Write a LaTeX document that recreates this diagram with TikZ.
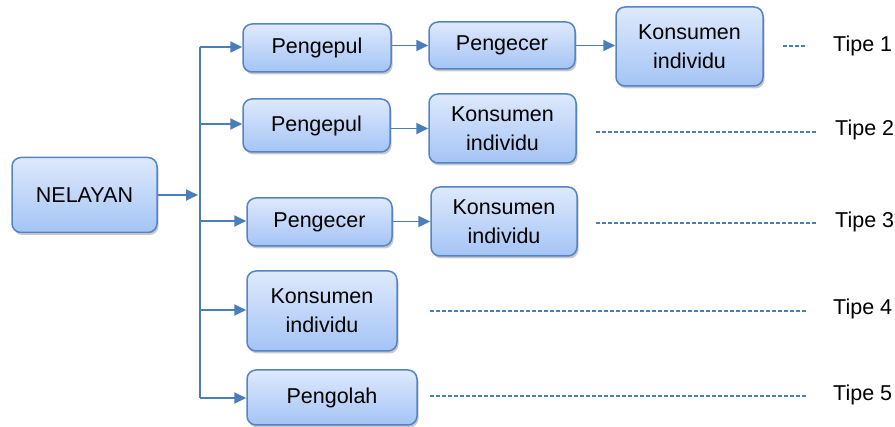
\documentclass[tikz,border=0pt]{standalone}
\usepackage{fontspec}
\setmainfont{Liberation Sans}
\usetikzlibrary{arrows.meta,shadows}
\definecolor{boxtop}{RGB}{222,233,252}
\definecolor{boxbot}{RGB}{164,196,245}
\definecolor{boxline}{RGB}{84,132,196}
\definecolor{linkc}{RGB}{74,126,187}
\tikzset{
  box/.style={draw=boxline, line width=1.5pt, rounded corners=9pt,
    top color=boxtop, bottom color=boxbot, align=center, inner sep=0pt,
    font=\fontsize{21.5}{29}\selectfont,
    drop shadow={shadow xshift=1.5pt, shadow yshift=-2.5pt, opacity=0.3, fill=black!70}},
  link/.style={draw=linkc, line width=1.8pt, -{Triangle[length=12pt,width=11pt]}},
  plain/.style={draw=linkc, line width=1.8pt},
  typeline/.style={draw=linkc, line width=1.2pt, dash pattern=on 4pt off 2pt},
  tipe/.style={anchor=base west, inner sep=0pt, font=\fontsize{21.5}{24}\selectfont}
}
\begin{document}
\begin{tikzpicture}[x=1pt,y=-1pt]
\useasboundingbox (0,0) rectangle (895,427);
% nodes
\node[box, minimum width=145pt, minimum height=75pt] (nel) at (84.5,195) {NELAYAN};
\node[box, minimum width=148pt, minimum height=48pt] (p1) at (317,48) {Pengepul};
\node[box, minimum width=146pt, minimum height=47pt] (c1) at (502,45.5) {Pengecer};
\node[box, minimum width=147pt, minimum height=79pt] (k1) at (689.5,46.5) {Konsumen\\individu};
\node[box, minimum width=147pt, minimum height=53pt] (p2) at (316.5,125.5) {Pengepul};
\node[box, minimum width=147pt, minimum height=69pt] (k2) at (502.5,128.5) {Konsumen\\individu};
\node[box, minimum width=145pt, minimum height=48pt] (c3) at (319.5,222) {Pengecer};
\node[box, minimum width=146pt, minimum height=69pt] (k3) at (504,221.5) {Konsumen\\individu};
\node[box, minimum width=150pt, minimum height=80pt] (k4) at (322,311) {Konsumen\\individu};
\node[box, minimum width=170pt, minimum height=55pt] (o5) at (332,397.5) {Pengolah};
% trunk
\coordinate (t1) at (200,47);
\coordinate (t2) at (200,124);
\coordinate (t3) at (200,221);
\coordinate (t4) at (200,310);
\coordinate (t5) at (200,398);
\coordinate (tm) at (198,195);
\draw[plain] (t1) -- (t5);
\draw[link] (nel.east |- tm) -- (tm);
\draw[link] (t1) -- (p1.west |- t1);
\draw[link] (t2) -- (p2.west |- t2);
\draw[link] (t3) -- (c3.west |- t3);
\draw[link] (t4) -- (k4.west |- t4);
\draw[link] (t5) -- (o5.west |- t5);
% row links
\draw[link] (p1.east |- c1) -- (c1.west);
\draw[link] (c1.east) -- (k1.west |- c1);
\draw[link] (p2.east |- k2) -- (k2.west);
\draw[link] (c3.east |- k3) -- (k3.west);
% type lines
\coordinate (d1a) at (783,46);  \coordinate (d1b) at (807,46);
\coordinate (d2a) at (596,132); \coordinate (d2b) at (817,132);
\coordinate (d3a) at (596,223); \coordinate (d3b) at (817,223);
\coordinate (d4a) at (430,311); \coordinate (d4b) at (807,311);
\coordinate (d5a) at (430,396); \coordinate (d5b) at (807,396);
\draw[typeline] (d1a) -- (d1b);
\draw[typeline] (d2a) -- (d2b);
\draw[typeline] (d3a) -- (d3b);
\draw[typeline] (d4a) -- (d4b);
\draw[typeline] (d5a) -- (d5b);
\node[tipe] (l1) at (833,51.5) {Tipe 1};
\node[tipe] (l2) at (835,135.5) {Tipe 2};
\node[tipe] (l3) at (835,227.5) {Tipe 3};
\node[tipe] (l4) at (833,314.5) {Tipe 4};
\node[tipe] (l5) at (833,400.5) {Tipe 5};
\end{tikzpicture}
\end{document}
